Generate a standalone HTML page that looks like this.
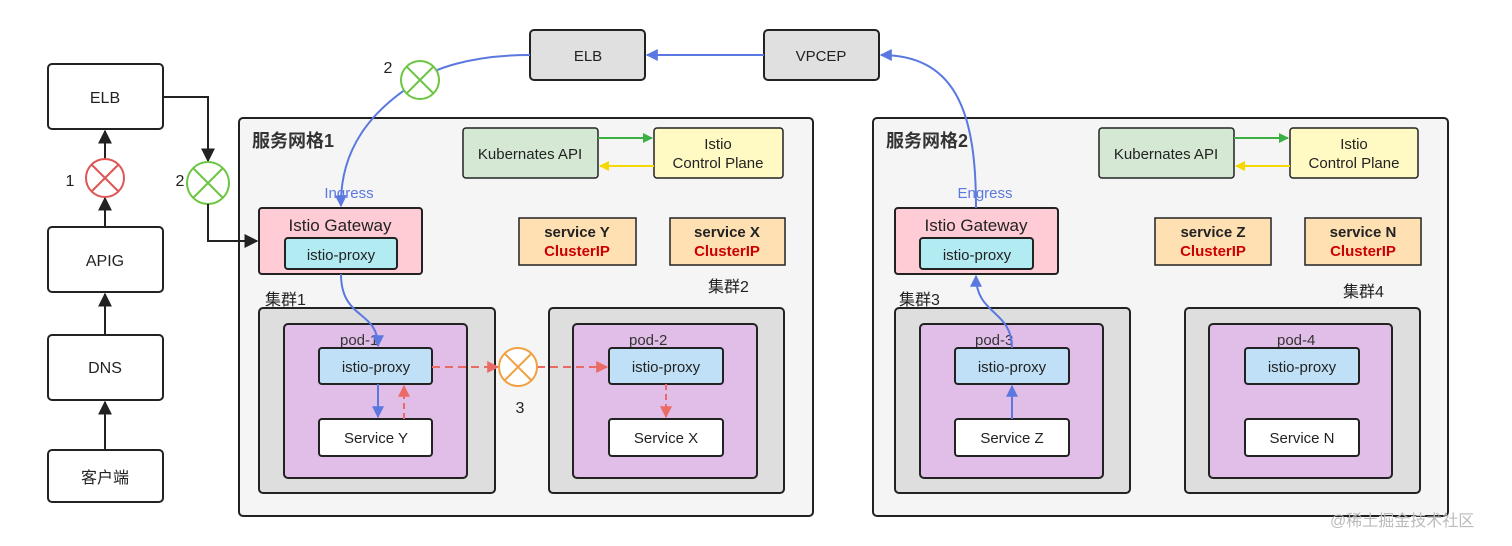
<!DOCTYPE html>
<html><head><meta charset="utf-8"><style>
body{margin:0;background:#fff;}
svg{display:block;font-family:"Liberation Sans","Noto Sans CJK SC",sans-serif;}
</style></head><body>
<svg width="1512" height="546" viewBox="0 0 1512 546" xmlns="http://www.w3.org/2000/svg">
<defs>
<marker id="ak" viewBox="0 0 10 10" refX="9" refY="5" markerWidth="7" markerHeight="7" orient="auto"><path d="M0,0L10,5L0,10z" fill="#222"/></marker>
<marker id="ab" viewBox="0 0 10 10" refX="9" refY="5" markerWidth="6" markerHeight="6" orient="auto"><path d="M0,0L10,5L0,10z" fill="#5a78e0"/></marker>
<marker id="ar" viewBox="0 0 10 10" refX="9" refY="5" markerWidth="6" markerHeight="6" orient="auto"><path d="M0,0L10,5L0,10z" fill="#ea6b66"/></marker>
<marker id="ag" viewBox="0 0 10 10" refX="9" refY="5" markerWidth="5" markerHeight="5" orient="auto"><path d="M0,0L10,5L0,10z" fill="#3cb043"/></marker>
<marker id="ay" viewBox="0 0 10 10" refX="9" refY="5" markerWidth="5" markerHeight="5" orient="auto"><path d="M0,0L10,5L0,10z" fill="#f5d800"/></marker>
</defs>
<g stroke="#222" stroke-width="2" fill="#fff">
<rect x="48" y="64" width="115" height="65" rx="4"/>
<rect x="48" y="227" width="115" height="65" rx="4"/>
<rect x="48" y="335" width="115" height="65" rx="4"/>
<rect x="48" y="450" width="115" height="52" rx="4"/>
</g>
<g font-size="16" fill="#222" text-anchor="middle">
<text x="105" y="103">ELB</text><text x="105" y="266">APIG</text><text x="105" y="373">DNS</text><text x="105" y="483">客户端</text>
</g>
<g stroke="#222" stroke-width="2" fill="none" marker-end="url(#ak)">
<line x1="105" y1="450" x2="105" y2="402"/>
<line x1="105" y1="335" x2="105" y2="294"/>
<line x1="105" y1="227" x2="105" y2="198"/>
<line x1="105" y1="159" x2="105" y2="131"/>
<polyline points="163,97 208,97 208,161"/>
</g>
<circle cx="105" cy="178" r="19" fill="#fff" stroke="#e05555" stroke-width="2"/>
<path d="M92,165L118,191M118,165L92,191" stroke="#e05555" stroke-width="2"/>
<text x="70" y="186" font-size="16" fill="#222" text-anchor="middle">1</text>
<circle cx="208" cy="183" r="21" fill="#fff" stroke="#6cc644" stroke-width="2"/>
<path d="M193,168L223,198M223,168L193,198" stroke="#6cc644" stroke-width="2"/>
<text x="180" y="186" font-size="16" fill="#222" text-anchor="middle">2</text>

<rect x="530" y="30" width="115" height="50" rx="4" fill="#e0e0e0" stroke="#222" stroke-width="2"/>
<rect x="764" y="30" width="115" height="50" rx="4" fill="#e0e0e0" stroke="#222" stroke-width="2"/>
<text x="588" y="61" font-size="15" text-anchor="middle" fill="#222">ELB</text>
<text x="821" y="61" font-size="15" text-anchor="middle" fill="#222">VPCEP</text>
<line x1="764" y1="55" x2="647" y2="55" stroke="#5a78e0" stroke-width="2" marker-end="url(#ab)"/>

<!-- mesh 1 -->
<rect x="239" y="118" width="574" height="398" rx="4" fill="#f5f5f5" stroke="#222" stroke-width="2"/>
<polyline points="208,204 208,241 257,241" stroke="#222" stroke-width="2" fill="none" marker-end="url(#ak)"/>
<text x="252" y="147" font-size="18" font-weight="bold" fill="#333">服务网格1</text>
<rect x="463" y="128" width="135" height="50" rx="3" fill="#d5e8d4" stroke="#222" stroke-width="1.5"/>
<rect x="654" y="128" width="129" height="50" rx="3" fill="#fff9c4" stroke="#222" stroke-width="1.5"/>
<text x="530" y="159" font-size="15" text-anchor="middle" fill="#222">Kubernates API</text>
<text x="718" y="149" font-size="15" text-anchor="middle" fill="#222">Istio</text>
<text x="718" y="168" font-size="15" text-anchor="middle" fill="#222">Control Plane</text>
<line x1="598" y1="138" x2="652" y2="138" stroke="#3cb043" stroke-width="2" marker-end="url(#ag)"/>
<line x1="654" y1="166" x2="600" y2="166" stroke="#f5d800" stroke-width="2" marker-end="url(#ay)"/>
<text x="349" y="198" font-size="15" text-anchor="middle" fill="#5a78e0">Ingress</text>
<rect x="259" y="208" width="163" height="66" rx="3" fill="#ffccd5" stroke="#222" stroke-width="2"/>
<text x="340" y="231" font-size="17" text-anchor="middle" fill="#222">Istio Gateway</text>
<rect x="285" y="238" width="112" height="31" rx="3" fill="#b2ebf2" stroke="#222" stroke-width="2"/>
<text x="341" y="260" font-size="15" text-anchor="middle" fill="#222">istio-proxy</text>
<rect x="519" y="218" width="117" height="47" fill="#ffe0b2" stroke="#222" stroke-width="1.5"/>
<rect x="670" y="218" width="115" height="47" fill="#ffe0b2" stroke="#222" stroke-width="1.5"/>
<g font-size="15" font-weight="bold" text-anchor="middle">
<text x="577" y="237" fill="#222">service Y</text><text x="577" y="256" fill="#c00">ClusterIP</text>
<text x="727" y="237" fill="#222">service X</text><text x="727" y="256" fill="#c00">ClusterIP</text>
</g>
<text x="708" y="292" font-size="16" fill="#222">集群2</text>
<text x="265" y="305" font-size="16" fill="#222">集群1</text>
<rect x="259" y="308" width="236" height="185" rx="4" fill="#dedede" stroke="#222" stroke-width="2"/>
<rect x="284" y="324" width="183" height="154" rx="4" fill="#e1bee7" stroke="#222" stroke-width="2"/>
<text x="340" y="345" font-size="15" fill="#333">pod-1</text>
<rect x="319" y="348" width="113" height="36" rx="3" fill="#bfe0f7" stroke="#222" stroke-width="2"/>
<text x="376" y="372" font-size="15" text-anchor="middle" fill="#222">istio-proxy</text>
<rect x="319" y="419" width="113" height="37" rx="3" fill="#fff" stroke="#222" stroke-width="2"/>
<text x="376" y="443" font-size="15" text-anchor="middle" fill="#222">Service Y</text>
<rect x="549" y="308" width="235" height="185" rx="4" fill="#dedede" stroke="#222" stroke-width="2"/>
<rect x="573" y="324" width="184" height="154" rx="4" fill="#e1bee7" stroke="#222" stroke-width="2"/>
<text x="629" y="345" font-size="15" fill="#333">pod-2</text>
<rect x="609" y="348" width="114" height="36" rx="3" fill="#bfe0f7" stroke="#222" stroke-width="2"/>
<text x="666" y="372" font-size="15" text-anchor="middle" fill="#222">istio-proxy</text>
<rect x="609" y="419" width="114" height="37" rx="3" fill="#fff" stroke="#222" stroke-width="2"/>
<text x="666" y="443" font-size="15" text-anchor="middle" fill="#222">Service X</text>
<line x1="378" y1="384" x2="378" y2="417" stroke="#5a78e0" stroke-width="2" marker-end="url(#ab)"/>
<line x1="404" y1="419" x2="404" y2="386" stroke="#ea6b66" stroke-width="2" stroke-dasharray="6,4" marker-end="url(#ar)"/>
<line x1="432" y1="367" x2="498" y2="367" stroke="#ea6b66" stroke-width="2" stroke-dasharray="8,5" marker-end="url(#ar)"/>
<line x1="537" y1="367" x2="607" y2="367" stroke="#ea6b66" stroke-width="2" stroke-dasharray="8,5" marker-end="url(#ar)"/>
<line x1="666" y1="384" x2="666" y2="417" stroke="#ea6b66" stroke-width="2" stroke-dasharray="6,4" marker-end="url(#ar)"/>
<circle cx="518" cy="367" r="19" fill="#fff" stroke="#f0a040" stroke-width="2"/>
<path d="M505,354L531,380M531,354L505,380" stroke="#f0a040" stroke-width="2"/>
<text x="520" y="413" font-size="16" text-anchor="middle" fill="#222">3</text>
<path d="M530,55 C470,55 430,70 420,80 C370,110 340,150 341,206" stroke="#5a78e0" stroke-width="2" fill="none" marker-end="url(#ab)"/>
<path d="M341,274 C341,320 378,310 378,346" stroke="#5a78e0" stroke-width="2" fill="none" marker-end="url(#ab)"/>
<circle cx="420" cy="80" r="19" fill="#fff" stroke="#6cc644" stroke-width="2"/>
<path d="M407,67L433,93M433,67L407,93" stroke="#6cc644" stroke-width="2"/>
<text x="388" y="73" font-size="16" text-anchor="middle" fill="#222">2</text>

<!-- mesh 2 -->
<rect x="873" y="118" width="575" height="398" rx="4" fill="#f5f5f5" stroke="#222" stroke-width="2"/>
<text x="886" y="147" font-size="18" font-weight="bold" fill="#333">服务网格2</text>
<rect x="1099" y="128" width="135" height="50" rx="3" fill="#d5e8d4" stroke="#222" stroke-width="1.5"/>
<rect x="1290" y="128" width="128" height="50" rx="3" fill="#fff9c4" stroke="#222" stroke-width="1.5"/>
<text x="1166" y="159" font-size="15" text-anchor="middle" fill="#222">Kubernates API</text>
<text x="1354" y="149" font-size="15" text-anchor="middle" fill="#222">Istio</text>
<text x="1354" y="168" font-size="15" text-anchor="middle" fill="#222">Control Plane</text>
<line x1="1234" y1="138" x2="1288" y2="138" stroke="#3cb043" stroke-width="2" marker-end="url(#ag)"/>
<line x1="1290" y1="166" x2="1236" y2="166" stroke="#f5d800" stroke-width="2" marker-end="url(#ay)"/>
<text x="985" y="198" font-size="15" text-anchor="middle" fill="#5a78e0">Engress</text>
<rect x="895" y="208" width="163" height="66" rx="3" fill="#ffccd5" stroke="#222" stroke-width="2"/>
<text x="976" y="231" font-size="17" text-anchor="middle" fill="#222">Istio Gateway</text>
<rect x="920" y="238" width="113" height="31" rx="3" fill="#b2ebf2" stroke="#222" stroke-width="2"/>
<text x="977" y="260" font-size="15" text-anchor="middle" fill="#222">istio-proxy</text>
<rect x="1155" y="218" width="116" height="47" fill="#ffe0b2" stroke="#222" stroke-width="1.5"/>
<rect x="1305" y="218" width="116" height="47" fill="#ffe0b2" stroke="#222" stroke-width="1.5"/>
<g font-size="15" font-weight="bold" text-anchor="middle">
<text x="1213" y="237" fill="#222">service Z</text><text x="1213" y="256" fill="#c00">ClusterIP</text>
<text x="1363" y="237" fill="#222">service N</text><text x="1363" y="256" fill="#c00">ClusterIP</text>
</g>
<text x="1343" y="297" font-size="16" fill="#222">集群4</text>
<text x="899" y="305" font-size="16" fill="#222">集群3</text>
<rect x="895" y="308" width="235" height="185" rx="4" fill="#dedede" stroke="#222" stroke-width="2"/>
<rect x="920" y="324" width="183" height="154" rx="4" fill="#e1bee7" stroke="#222" stroke-width="2"/>
<text x="975" y="345" font-size="15" fill="#333">pod-3</text>
<rect x="955" y="348" width="114" height="36" rx="3" fill="#bfe0f7" stroke="#222" stroke-width="2"/>
<text x="1012" y="372" font-size="15" text-anchor="middle" fill="#222">istio-proxy</text>
<rect x="955" y="419" width="114" height="37" rx="3" fill="#fff" stroke="#222" stroke-width="2"/>
<text x="1012" y="443" font-size="15" text-anchor="middle" fill="#222">Service Z</text>
<rect x="1185" y="308" width="235" height="185" rx="4" fill="#dedede" stroke="#222" stroke-width="2"/>
<rect x="1209" y="324" width="183" height="154" rx="4" fill="#e1bee7" stroke="#222" stroke-width="2"/>
<text x="1277" y="345" font-size="15" fill="#333">pod-4</text>
<rect x="1245" y="348" width="114" height="36" rx="3" fill="#bfe0f7" stroke="#222" stroke-width="2"/>
<text x="1302" y="372" font-size="15" text-anchor="middle" fill="#222">istio-proxy</text>
<rect x="1245" y="419" width="114" height="37" rx="3" fill="#fff" stroke="#222" stroke-width="2"/>
<text x="1302" y="443" font-size="15" text-anchor="middle" fill="#222">Service N</text>
<line x1="1012" y1="419" x2="1012" y2="386" stroke="#5a78e0" stroke-width="2" marker-end="url(#ab)"/>
<path d="M1012,348 C1012,310 976,315 976,276" stroke="#5a78e0" stroke-width="2" fill="none" marker-end="url(#ab)"/>
<path d="M976,208 C976,120 960,55 881,55" stroke="#5a78e0" stroke-width="2" fill="none" marker-end="url(#ab)"/>
<text x="1330" y="526" font-size="16" fill="#bbb">@稀土掘金技术社区</text>
</svg>
</body></html>
